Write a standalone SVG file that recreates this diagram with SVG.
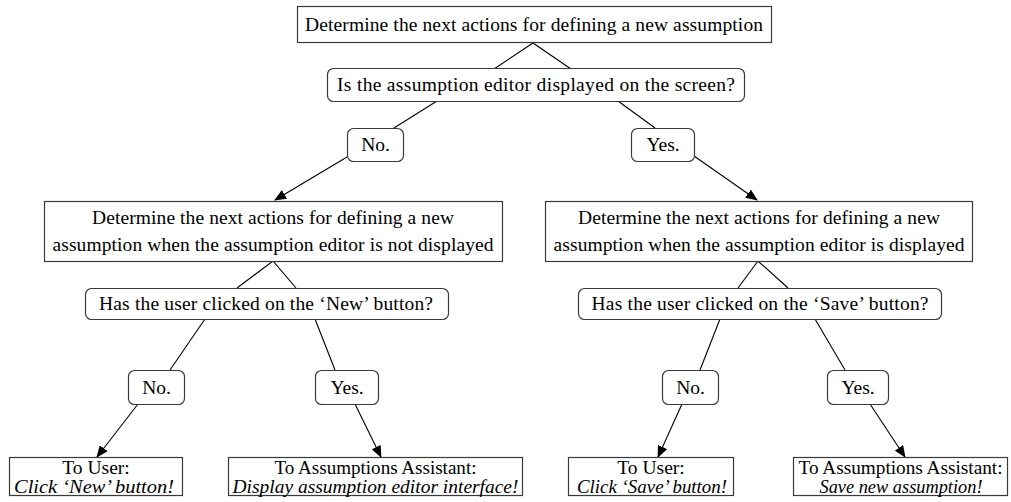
<svg xmlns="http://www.w3.org/2000/svg" width="1011" height="502" viewBox="0 0 1011 502">
<defs>
<style>
.box{fill:#fff;stroke:#3a3a3a;stroke-width:1.2}
.t{font-family:"Liberation Serif","Times New Roman",serif;font-size:19.5px;fill:#000;text-anchor:middle}
.i{font-style:italic}
.c{fill:none;stroke:#000;stroke-width:1.1}
</style>
<marker id="ah" markerUnits="userSpaceOnUse" markerWidth="12" markerHeight="10" refX="11" refY="5" orient="auto">
<path d="M0,0 L12,5 L0,10 Z" fill="#000"/>
</marker>
</defs>
<rect width="1011" height="502" fill="#fff"/>
<g id="connectors">
<path class="c" d="M494,69 L533,43 L571,69"/>
<path class="c" d="M437,101 L394,128"/>
<path class="c" d="M347,157 L275,200" marker-end="url(#ah)"/>
<path class="c" d="M618,101 L655,128"/>
<path class="c" d="M694,156 L757,200" marker-end="url(#ah)"/>
<path class="c" d="M237,288 L273,261 L296,288"/>
<path class="c" d="M738,288 L758,261 L788,288"/>
<path class="c" d="M205,319 L170,370"/>
<path class="c" d="M138,404 L97,457" marker-end="url(#ah)"/>
<path class="c" d="M315,319 L335,370"/>
<path class="c" d="M355,404 L381,457" marker-end="url(#ah)"/>
<path class="c" d="M720,319 L700,370"/>
<path class="c" d="M682,404 L658,457" marker-end="url(#ah)"/>
<path class="c" d="M815,319 L845,370"/>
<path class="c" d="M870,404 L905,457" marker-end="url(#ah)"/>
</g>
<g id="n-root">
<rect class="box" x="297.5" y="6.5" width="474" height="36"/>
<text class="t" x="534" y="31" textLength="458" lengthAdjust="spacing">Determine the next actions for defining a new assumption</text>
</g>
<g id="n-q1">
<rect class="box" x="327.5" y="68.5" width="417" height="33" rx="6"/>
<text class="t" x="536" y="91" textLength="398" lengthAdjust="spacing">Is the assumption editor displayed on the screen?</text>
</g>
<g id="n-no1">
<rect class="box" x="347.5" y="128.5" width="56" height="33" rx="6"/>
<text class="t" x="375.5" y="151">No.</text>
</g>
<g id="n-yes1">
<rect class="box" x="631.5" y="128.5" width="63" height="33" rx="6"/>
<text class="t" x="663" y="151">Yes.</text>
</g>
<g id="n-midL">
<rect class="box" x="44.5" y="201.5" width="458" height="60"/>
<text class="t" x="273" y="224" textLength="362" lengthAdjust="spacing">Determine the next actions for defining a new</text>
<text class="t" x="273" y="251" textLength="441" lengthAdjust="spacing">assumption when the assumption editor is not displayed</text>
</g>
<g id="n-midR">
<rect class="box" x="545.5" y="201.5" width="427" height="60"/>
<text class="t" x="759" y="224" textLength="362" lengthAdjust="spacing">Determine the next actions for defining a new</text>
<text class="t" x="759" y="251" textLength="411" lengthAdjust="spacing">assumption when the assumption editor is displayed</text>
</g>
<g id="n-q2L">
<rect class="box" x="85.5" y="288.5" width="363" height="31" rx="6"/>
<text class="t" x="266" y="310" textLength="334" lengthAdjust="spacing">Has the user clicked on the ‘New’ button?</text>
</g>
<g id="n-q2R">
<rect class="box" x="578.5" y="288.5" width="363" height="31" rx="6"/>
<text class="t" x="760" y="310" textLength="337" lengthAdjust="spacing">Has the user clicked on the ‘Save’ button?</text>
</g>
<g id="n-noL">
<rect class="box" x="128.5" y="370.5" width="56" height="34" rx="6"/>
<text class="t" x="156.5" y="394">No.</text>
</g>
<g id="n-yesL">
<rect class="box" x="315.5" y="370.5" width="63" height="34" rx="6"/>
<text class="t" x="347" y="394">Yes.</text>
</g>
<g id="n-noR">
<rect class="box" x="662.5" y="370.5" width="56" height="34" rx="6"/>
<text class="t" x="690.5" y="394">No.</text>
</g>
<g id="n-yesR">
<rect class="box" x="827.5" y="370.5" width="61" height="34" rx="6"/>
<text class="t" x="858" y="394">Yes.</text>
</g>
<g id="n-userL">
<rect class="box" x="9.5" y="457.5" width="173" height="38"/>
<text class="t" x="96" y="474">To User:</text>
<text class="t i" x="94" y="493" textLength="160" lengthAdjust="spacingAndGlyphs">Click ‘New’ button!</text>
</g>
<g id="n-assistL">
<rect class="box" x="228.5" y="457.5" width="294" height="38"/>
<text class="t" x="375.5" y="474" textLength="202" lengthAdjust="spacingAndGlyphs">To Assumptions Assistant:</text>
<text class="t i" x="375.5" y="493" textLength="286" lengthAdjust="spacingAndGlyphs">Display assumption editor interface!</text>
</g>
<g id="n-userR">
<rect class="box" x="568.5" y="457.5" width="165" height="38"/>
<text class="t" x="651" y="474">To User:</text>
<text class="t i" x="652" y="493" textLength="150" lengthAdjust="spacingAndGlyphs">Click ‘Save’ button!</text>
</g>
<g id="n-assistR">
<rect class="box" x="793.5" y="457.5" width="214" height="38"/>
<text class="t" x="900.5" y="474" textLength="204" lengthAdjust="spacingAndGlyphs">To Assumptions Assistant:</text>
<text class="t i" x="901" y="493" textLength="163" lengthAdjust="spacingAndGlyphs">Save new assumption!</text>
</g>
</svg>
